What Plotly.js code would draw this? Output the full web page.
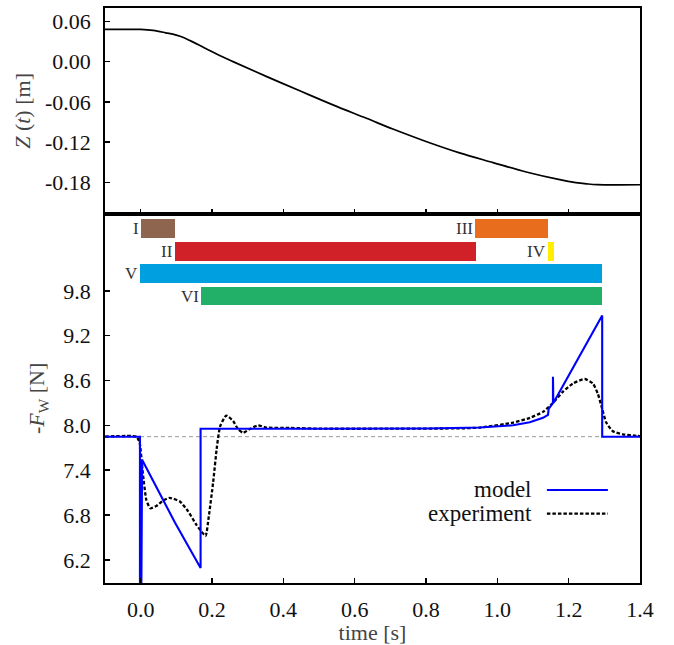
<!DOCTYPE html>
<html>
<head>
<meta charset="utf-8">
<script src="https://cdn.plot.ly/plotly-3.0.1.min.js"></script>
<style>html,body{margin:0;padding:0;background:#fff;}#chart{width:674px;height:645px;}</style>
</head>
<body>
<div id="chart"></div>
<script>
// ---------- data ----------
const zTime = [-0.1, 0.0, 0.035, 0.07, 0.1, 0.12, 0.14, 0.165, 0.19, 0.22, 0.259, 0.352, 0.446, 0.539, 0.633, 0.707, 0.80, 0.894, 0.988, 1.081, 1.175, 1.22, 1.25, 1.28, 1.4];
const zPos  = [0.048, 0.048, 0.0465, 0.043, 0.0395, 0.036, 0.031, 0.0244, 0.0175, 0.0095, 0.0, -0.022, -0.0435, -0.0645, -0.0845, -0.1005, -0.119, -0.136, -0.1505, -0.1646, -0.176, -0.1803, -0.1822, -0.1835, -0.1836];

const modelTime  = [-0.1, -0.002, -0.002, 0.001, 0.004, 0.092, 0.096, 0.168, 0.168, 0.5, 0.8, 0.951, 1.044, 1.091, 1.128, 1.142, 1.144, 1.156, 1.156, 1.157, 1.294, 1.294, 1.4];
const modelForce = [7.848, 7.848, 5.0, 5.0, 7.54, 6.72, 6.70, 6.09, 7.955, 7.955, 7.957, 7.97, 8.0, 8.04, 8.10, 8.14, 8.22, 8.30, 8.65, 8.30, 9.47, 7.848, 7.848];

const expTime  = [-0.1, -0.012, -0.003, 0.006, 0.016, 0.027, 0.044, 0.062, 0.081, 0.11, 0.133, 0.156, 0.17, 0.182, 0.191, 0.203, 0.214, 0.223, 0.24, 0.259, 0.273, 0.287, 0.306, 0.329, 0.352, 0.42, 0.5, 0.7, 0.9, 0.951, 1.044, 1.091, 1.128, 1.156, 1.184, 1.212, 1.245, 1.268, 1.282, 1.294, 1.305, 1.324, 1.352, 1.39, 1.4];
const expForce = [7.848, 7.848, 7.77, 7.36, 7.0, 6.89, 6.92, 6.99, 7.03, 6.98, 6.85, 6.67, 6.58, 6.52, 6.78, 7.23, 7.72, 7.99, 8.13, 8.06, 7.95, 7.90, 7.95, 8.0, 7.97, 7.965, 7.955, 7.955, 7.96, 7.97, 8.036, 8.10, 8.18, 8.30, 8.45, 8.56, 8.62, 8.56, 8.42, 8.22, 8.04, 7.92, 7.88, 7.86, 7.855];

const weightLine = 7.848;

const phaseLabels = ["I", "II", "III", "IV", "V", "VI"];
const phaseStart  = [0.0, 0.095, 0.936, 1.141, -0.003, 0.169];
const phaseEnd    = [0.095, 0.939, 1.141, 1.158, 1.294, 1.294];
const phaseLevel  = [10.63, 10.33, 10.63, 10.33, 10.03, 9.73];
const phaseColors = ["#8E6650", "#D12128", "#E86E1E", "#FFEE00", "#00A0E0", "#22B068"];

const timeTicks = [0.0, 0.2, 0.4, 0.6, 0.8, 1.0, 1.2, 1.4];
const timeTickText = ["0.0", "0.2", "0.4", "0.6", "0.8", "1.0", "1.2", "1.4"];
const zTicks = [0.06, 0.0, -0.06, -0.12, -0.18];
const zTickText = ["0.06", "0.00", "-0.06", "-0.12", "-0.18"];
const fTicks = [6.2, 6.8, 7.4, 8.0, 8.6, 9.2, 9.8];
const fTickText = ["6.2", "6.8", "7.4", "8.0", "8.6", "9.2", "9.8"];

const legendNames = ["model", "experiment"];

// ---------- traces ----------
const FONT = "Liberation Serif";
const traces = [
  {x: zTime, y: zPos, xaxis: "x", yaxis: "y", mode: "lines", line: {color: "#000", width: 1.7, shape: "spline", smoothing: 1}, showlegend: false, hoverinfo: "skip"},
  {x: phaseEnd.map((e, i) => e - phaseStart[i]), base: phaseStart, y: phaseLevel, type: "bar", orientation: "h", width: 0.25,
   marker: {color: phaseColors, line: {width: 0}}, xaxis: "x2", yaxis: "y2", showlegend: false, hoverinfo: "skip"},
  {x: [-0.1, 1.4], y: [weightLine, weightLine], xaxis: "x2", yaxis: "y2", mode: "lines", line: {color: "#999", width: 1, dash: "4px,3px"}, showlegend: false, hoverinfo: "skip"},
  {x: expTime, y: expForce, xaxis: "x2", yaxis: "y2", mode: "lines", name: legendNames[1], line: {color: "#000", width: 2.3, dash: "3.5px,2px", shape: "spline", smoothing: 0.5}, showlegend: false},
  {x: modelTime, y: modelForce, xaxis: "x2", yaxis: "y2", mode: "lines", name: legendNames[0], line: {color: "#0000FF", width: 2.1}, showlegend: false}
];

const annotations = phaseLabels.map((lab, i) => ({
  x: phaseStart[i], y: phaseLevel[i], xref: "x2", yref: "y2", text: lab, showarrow: false,
  xanchor: "right", yanchor: "middle", xshift: 0, font: {family: FONT, size: 17, color: "#333"}
}));
// legend (text on the left, sample on the right)
annotations.push({xref: "paper", yref: "paper", x: 0.802, y: 0.162, text: legendNames[0], showarrow: false, xanchor: "right", yanchor: "middle", font: {family: FONT, size: 23, color: "#111"}});
annotations.push({xref: "paper", yref: "paper", x: 0.802, y: 0.121, text: legendNames[1], showarrow: false, xanchor: "right", yanchor: "middle", font: {family: FONT, size: 23, color: "#111"}});

const shapes = [
  {type: "line", xref: "paper", yref: "paper", x0: 0.826, x1: 0.94, y0: 0.1617, y1: 0.1617, line: {color: "#0000FF", width: 2.1}},
  {type: "line", xref: "paper", yref: "paper", x0: 0.826, x1: 0.94, y0: 0.1205, y1: 0.1205, line: {color: "#000", width: 2.3, dash: "3.5px,2px"}}
];

const axisCommon = {showline: true, linecolor: "#000", linewidth: 1.8, ticks: "inside", ticklen: 5, tickwidth: 1.6, tickcolor: "#000",
  showgrid: false, zeroline: false, tickfont: {family: FONT, size: 22, color: "#111"}};

const layout = {
  width: 674, height: 645,
  margin: {l: 105, r: 34, t: 8, b: 62},
  paper_bgcolor: "#fff", plot_bgcolor: "#fff",
  font: {family: FONT},
  showlegend: false,
  bargap: 0,
  xaxis: Object.assign({}, axisCommon, {domain: [0, 1], range: [-0.1, 1.4], anchor: "y", tickvals: timeTicks, ticktext: timeTickText, showticklabels: false, mirror: true, matches: "x2"}),
  yaxis: Object.assign({}, axisCommon, {domain: [0.642, 1], range: [-0.227, 0.08], anchor: "x", tickvals: zTicks, ticktext: zTickText, mirror: true, ticklabelstandoff: 8,
    title: {text: "<i>Z</i> (<i>t</i>) [m]", font: {family: FONT, size: 22, color: "#444"}, standoff: 8}}),
  xaxis2: Object.assign({}, axisCommon, {domain: [0, 1], range: [-0.1, 1.4], anchor: "y2", tickvals: timeTicks, ticktext: timeTickText, mirror: true, ticklabelstandoff: 6,
    title: {text: "time [s]", font: {family: FONT, size: 22, color: "#444"}, standoff: 0}}),
  yaxis2: Object.assign({}, axisCommon, {domain: [0, 0.642], range: [5.89, 10.83], anchor: "x2", tickvals: fTicks, ticktext: fTickText, mirror: true, ticklabelstandoff: 8,
    title: {text: "-<i>F</i><sub>W</sub> [N]", font: {family: FONT, size: 22, color: "#444"}, standoff: 12}}),
  annotations: annotations,
  shapes: shapes
};

Plotly.newPlot("chart", traces, layout, {displayModeBar: false, staticPlot: true});
</script>
</body>
</html>
